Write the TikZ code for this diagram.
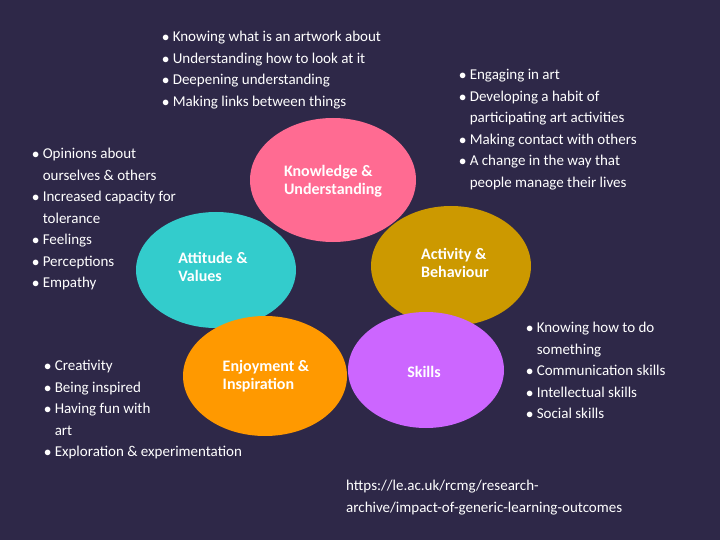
\documentclass[tikz,border=0pt]{standalone}
\usepackage{fontspec}
\setmainfont{Carlito}
\definecolor{bgcol}{HTML}{2E2848}
\definecolor{kncol}{HTML}{FF6B92}
\definecolor{atcol}{HTML}{33CCCC}
\definecolor{accol}{HTML}{CC9900}
\definecolor{encol}{HTML}{FF9900}
\definecolor{skcol}{HTML}{CC66FF}
\begin{document}
\begin{tikzpicture}[x=1pt,y=-1pt,
  title/.style={text=white,font=\fontsize{16}{18}\selectfont\bfseries,align=left},
  lst/.style={text=white,font=\fontsize{15}{21.5}\selectfont,align=left,anchor=north west,inner sep=0pt}]
\fill[bgcol] (0,0) rectangle (720,540);
\useasboundingbox (0,0) rectangle (720,540);
\fill[kncol] (333,180) ellipse [x radius=83,y radius=62];
\fill[atcol] (216,270) ellipse [x radius=80,y radius=58];
\fill[accol] (451,266) ellipse [x radius=80,y radius=60];
\fill[encol] (265,376) ellipse [x radius=82,y radius=60];
\fill[skcol] (426,370) ellipse [x radius=78,y radius=58];
\node[title] (tk) at (333,181) {Knowledge \&\\Understanding};
\node[title] (ta) at (213,267) {Attitude \&\\Values};
\node[title] (tc) at (455,263) {Activity \&\\Behaviour};
\node[title] (te) at (266,376) {Enjoyment \&\\Inspiration};
\node[title] (ts) at (424,372) {Skills};
\node[lst] (lk) at (162,31) {$\bullet$ Knowing what is an artwork about\\$\bullet$ Understanding how to look at it\\$\bullet$ Deepening understanding\\$\bullet$ Making links between things};
\node[lst] (lc) at (459,69) {$\bullet$ Engaging in art\\$\bullet$ Developing a habit of\\\phantom{$\bullet$} participating art activities\\$\bullet$ Making contact with others\\$\bullet$ A change in the way that\\\phantom{$\bullet$} people manage their lives};
\node[lst] (la) at (32,148) {$\bullet$ Opinions about\\\phantom{$\bullet$} ourselves \& others\\$\bullet$ Increased capacity for\\\phantom{$\bullet$} tolerance\\$\bullet$ Feelings\\$\bullet$ Perceptions\\$\bullet$ Empathy};
\node[lst] (le) at (44,360) {$\bullet$ Creativity\\$\bullet$ Being inspired\\$\bullet$ Having fun with\\\phantom{$\bullet$} art\\$\bullet$ Exploration \& experimentation};
\node[lst] (ls) at (526,322) {$\bullet$ Knowing how to do\\\phantom{$\bullet$} something\\$\bullet$ Communication skills\\$\bullet$ Intellectual skills\\$\bullet$ Social skills};
\node[lst] (url) at (346,480) {https://le.ac.uk/rcmg/research-\\archive/impact-of-generic-learning-outcomes};
\end{tikzpicture}
\end{document}
